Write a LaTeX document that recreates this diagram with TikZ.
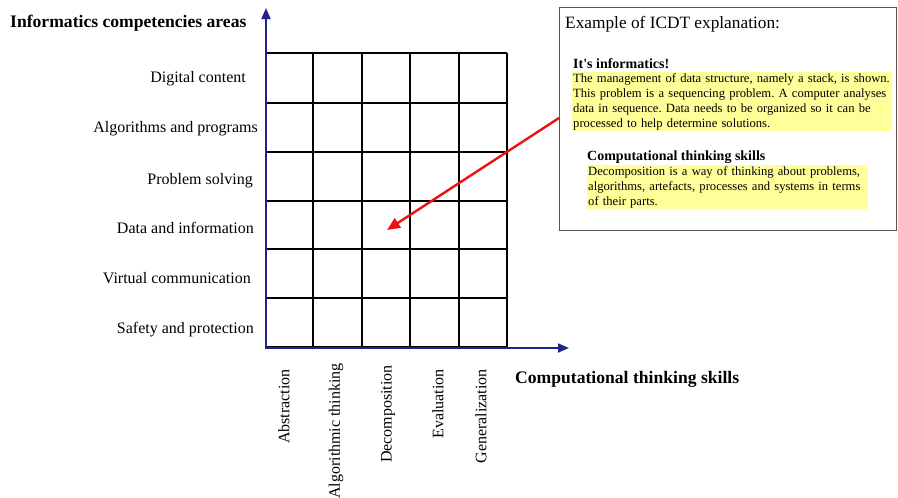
\documentclass[tikz,border=0pt]{standalone}
\usepackage{fontspec}
\setmainfont{Liberation Serif}
\usetikzlibrary{arrows.meta}
\definecolor{axisblue}{HTML}{22228C}
\definecolor{hiyellow}{HTML}{FFFF99}
\definecolor{boxgray}{HTML}{555555}
\definecolor{arrowred}{HTML}{EE1111}
\frenchspacing
\begin{document}
\begin{tikzpicture}[x=1pt,y=-1pt,
  axisline/.style={draw=axisblue, line width=1.8pt, -{Triangle[length=11pt,width=9pt]}},
  gridline/.style={draw=black, line width=1.4pt},
  rowlabel/.style={anchor=base east, inner sep=0pt, font=\fontsize{16}{19}\selectfont},
  collabel/.style={rotate=90, anchor=east, inner sep=0pt, font=\fontsize{16}{19}\selectfont},
  axistitle/.style={anchor=base west, inner sep=0pt, font=\fontsize{17.6}{20}\selectfont\bfseries},
  hibox/.style={anchor=north west, fill=hiyellow, align=left, inner xsep=1pt, inner ysep=1.5pt, font=\fontsize{12.6}{15}\selectfont\frenchspacing},
  hihead/.style={anchor=base west, inner sep=0pt, font=\fontsize{14}{16}\selectfont\bfseries}
]
\useasboundingbox (0,0) rectangle (898,498);

% grid
\foreach \yy in {53,103,152,201,249,298,347} \draw[gridline] (266,\yy) -- (507,\yy);
\foreach \xx in {266,313,362,410,459,507} \draw[gridline] (\xx,53) -- (\xx,347);

% axes
\coordinate (origin) at (266,348);
\coordinate (ytip) at (266,8);
\coordinate (xtip) at (569,348);
\draw[axisline] (origin) -- (ytip);
\draw[axisline] ([xshift=-1pt]origin) -- (xtip);

% axis titles
\node[axistitle] (ytitle) at (10,27) {Informatics competencies areas};
\node[axistitle] (xtitle) at (515,383) {Computational thinking skills};

% row labels
\node[rowlabel] (r1) at (246,82) {Digital content};
\node[rowlabel] (r2) at (258,132) {Algorithms and programs};
\node[rowlabel] (r3) at (253,184) {Problem solving};
\node[rowlabel] (r4) at (254,233) {Data and information};
\node[rowlabel] (r5) at (251,283) {Virtual communication};
\node[rowlabel] (r6) at (254,333) {Safety and protection};

% column labels
\node[collabel] (c1) at (284,369) {Abstraction};
\node[collabel] (c2) at (336,363) {Algorithmic thinking};
\node[collabel] (c3) at (388,365) {Decomposition};
\node[collabel] (c4) at (438,369) {Evaluation};
\node[collabel] (c5) at (481,369) {Generalization};

% explanation box
\node[draw=boxgray, line width=1.2pt, anchor=north west, minimum width=337pt, minimum height=223pt, inner sep=0pt] (expl) at (559,7) {};
\node[anchor=base west, inner sep=0pt, font=\fontsize{17.3}{20}\selectfont] (extitle) at (565,28) {Example of ICDT explanation:};
\node[hihead] (h1) at (573,68) {It\textquotesingle s informatics!};
\node[hibox, text width=318pt] (p1) at (572,71.5) {The management of data structure, namely a stack, is shown.\\This problem is a sequencing problem. A computer analyses\\data in sequence. Data needs to be organized so it can be\\processed to help determine solutions.};
\node[hihead] (h2) at (587,160) {Computational thinking skills};
\node[hibox, text width=279pt] (p2) at (587,164.5) {Decomposition is a way of thinking about problems,\\algorithms, artefacts, processes and systems in terms\\of their parts.};

% red arrow
\coordinate (redstart) at (559,118);
\coordinate (redtip) at (387,230);
\draw[draw=arrowred, line width=2.4pt, -{Triangle[length=13pt,width=11pt]}] (redstart) -- (redtip);
\end{tikzpicture}
\end{document}
